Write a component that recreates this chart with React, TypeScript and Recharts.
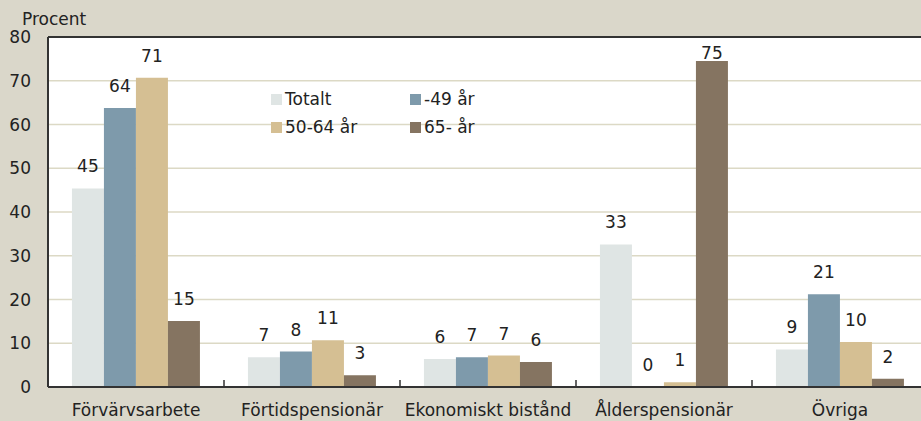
import React from 'react';
import { BarChart, Bar, XAxis, YAxis, CartesianGrid, ReferenceLine, LabelList } from 'recharts';

const categories = ['Förvärvsarbete', 'Förtidspensionär', 'Ekonomiskt bistånd', 'Ålderspensionär', 'Övriga'];
const totalt = [45.4, 6.8, 6.4, 32.6, 8.6];
const upTo49 = [63.8, 8.1, 6.8, 0.1, 21.2];
const from50to64 = [70.7, 10.7, 7.2, 1.1, 10.3];
const from65 = [15.1, 2.7, 5.7, 74.5, 1.9];
const yTicks = [0, 10, 20, 30, 40, 50, 60, 70, 80];

const series = [
  { key: 'totalt', name: 'Totalt', color: '#dfe5e4' },
  { key: 'upTo49', name: '-49 år', color: '#7e9aab' },
  { key: 'from50to64', name: '50-64 år', color: '#d5bf93' },
  { key: 'from65', name: '65- år', color: '#857461' },
];

const data = categories.map((name, i) => ({
  name,
  totalt: totalt[i],
  upTo49: upTo49[i],
  from50to64: from50to64[i],
  from65: from65[i],
}));

const FONT = '"DejaVu Sans", sans-serif';
const PLOT_TOP = 37;
const X_TICK_MARGIN = 10;

// value labels sit above the bar, but never poke through the top frame
function ValueLabel(props: any) {
  const { x, y, width, value } = props;
  const cx = x + width / 2;
  const ty = Math.max(y - 16, PLOT_TOP + 22);
  return (
    <text x={cx} y={ty} textAnchor="middle" fontSize={17} fontFamily={FONT} fill="#222">
      {Math.round(value)}
    </text>
  );
}

// category label + small inward tick on the boundary between groups
function CategoryTick(props: any) {
  const { x, y, payload, index } = props;
  const half = payload.offset || 0;
  const axisY = y - X_TICK_MARGIN;
  return (
    <g>
      <text x={x} y={axisY + 29} textAnchor="middle" fontSize={17} fontFamily={FONT} fill="#222">
        {payload.value}
      </text>
      {index > 0 && (
        <line x1={x - half} x2={x - half} y1={axisY - 7} y2={axisY} stroke="#333" strokeWidth={1.5} />
      )}
    </g>
  );
}

function LegendBox() {
  return (
    <div
      style={{
        position: 'absolute',
        left: 271,
        top: 88,
        display: 'grid',
        gridTemplateColumns: '139px 120px',
        rowGap: 6,
        fontFamily: FONT,
        fontSize: 17,
        lineHeight: '22px',
        color: '#222',
      }}
    >
      {series.map((s) => (
        <div key={s.key} style={{ display: 'flex', alignItems: 'center' }}>
          <span style={{ display: 'inline-block', width: 11, height: 11, background: s.color, marginRight: 3 }} />
          {s.name}
        </div>
      ))}
    </div>
  );
}

export default function App() {
  return (
    <div style={{ position: 'fixed', left: 0, top: 0, width: 921, height: 421, overflow: 'hidden', background: '#dad7ca' }}>
      <div style={{ position: 'absolute', left: 22, top: 9, fontFamily: FONT, fontSize: 17, color: '#222' }}>Procent</div>
      <BarChart
        width={928}
        height={421}
        data={data}
        margin={{ top: PLOT_TOP, right: 0, left: 0, bottom: 0 }}
        barCategoryGap="13.6%"
        barGap={0}
      >
        <CartesianGrid vertical={false} stroke="#dcd9c5" strokeWidth={1.5} fill="#ffffff" />
        <XAxis
          dataKey="name"
          height={34}
          tick={<CategoryTick />}
          tickLine={false}
          axisLine={{ stroke: '#333', strokeWidth: 2 }}
          interval={0}
          tickSize={0}
          tickMargin={X_TICK_MARGIN}
        />
        <YAxis
          width={48}
          domain={[0, 80]}
          ticks={yTicks}
          tickLine={false}
          tickSize={0}
          tickMargin={17}
          axisLine={{ stroke: '#333', strokeWidth: 2 }}
          tick={{ fontSize: 17, fontFamily: FONT, fill: '#222' }}
        />
        <ReferenceLine y={80} stroke="#333" strokeWidth={2} />
        {series.map((s) => (
          <Bar key={s.key} dataKey={s.key} name={s.name} fill={s.color} isAnimationActive={false}>
            <LabelList dataKey={s.key} content={<ValueLabel />} />
          </Bar>
        ))}
      </BarChart>
      <LegendBox />
    </div>
  );
}
